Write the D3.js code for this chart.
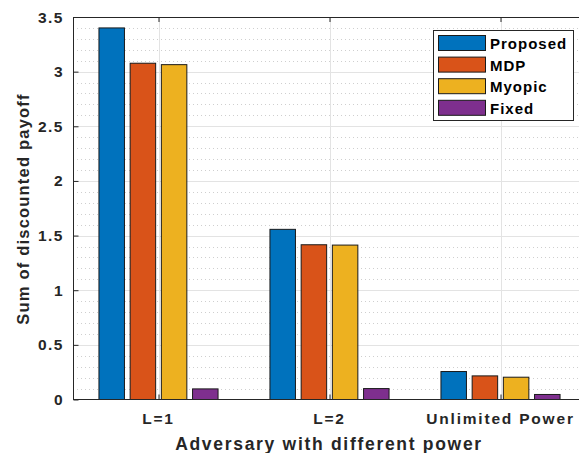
<!DOCTYPE html>
<html>
<head>
<meta charset="utf-8">
<script src="https://cdn.jsdelivr.net/npm/d3@7"></script>
<style>
  body { margin: 0; background: #fff; }
  svg { display: block; font-family: "Liberation Sans", Arial, sans-serif; }
</style>
</head>
<body>
<svg id="chart" width="579" height="453"></svg>
<script>
const categories = ['L=1', 'L=2', 'Unlimited Power'];
const seriesNames = ['Proposed', 'MDP', 'Myopic', 'Fixed'];
const seriesColors = ['#0072BD', '#D95319', '#EDB120', '#7E2F8E'];
const proposed = [3.40, 1.557, 0.256];
const mdp = [3.077, 1.416, 0.216];
const myopic = [3.064, 1.413, 0.204];
const fixed = [0.097, 0.10, 0.046];
const yTicks = [0, 0.5, 1, 1.5, 2, 2.5, 3, 3.5];

const values = [proposed, mdp, myopic, fixed];

const svg = d3.select('#chart');
const m = {left: 73, top: 17, right: 586, bottom: 399.5};
const ink = '#262626';

const x = d3.scaleLinear().domain([0.5, 3.5]).range([m.left, m.right]);
const y = d3.scaleLinear().domain([0, 3.5]).range([m.bottom, m.top]);

// minor dotted grid
const minor = d3.range(0, 3.51, 0.1).filter((v) => Math.abs(v * 2 - Math.round(v * 2)) > 1e-6);
svg.append('g').selectAll('line').data(minor).join('line')
    .attr('x1', m.left).attr('x2', m.right)
    .attr('y1', (d) => Math.round(y(d)) + 0.5).attr('y2', (d) => Math.round(y(d)) + 0.5)
    .attr('stroke', '#cfcfcf').attr('stroke-dasharray', '1,3');

// major grid
svg.append('g').selectAll('line').data(yTicks.slice(1, -1)).join('line')
    .attr('x1', m.left).attr('x2', m.right)
    .attr('y1', (d) => Math.round(y(d)) + 0.5).attr('y2', (d) => Math.round(y(d)) + 0.5)
    .attr('stroke', '#e3e3e3');
svg.append('g').selectAll('line').data([1, 2, 3]).join('line')
    .attr('x1', (d) => Math.round(x(d)) + 0.5).attr('x2', (d) => Math.round(x(d)) + 0.5)
    .attr('y1', m.top).attr('y2', m.bottom)
    .attr('stroke', '#e3e3e3');

// bars
const barW = 25.5;
const step = 31.2;
values.forEach((vals, si) => {
  svg.append('g').selectAll('rect').data(vals).join('rect')
      .attr('x', (d, i) => x(i + 1) + (si - 1.5) * step - barW / 2)
      .attr('y', (d) => y(d))
      .attr('width', barW)
      .attr('height', (d) => y(0) - y(d))
      .attr('fill', seriesColors[si])
      .attr('stroke', '#1a1a1a')
      .attr('stroke-width', 1);
});

// axes box
svg.append('line').attr('x1', m.left).attr('x2', m.right).attr('y1', m.top + 0.5).attr('y2', m.top + 0.5).attr('stroke', ink);
svg.append('line').attr('x1', m.left).attr('x2', m.right).attr('y1', m.bottom).attr('y2', m.bottom).attr('stroke', ink);
svg.append('line').attr('x1', m.left + 0.5).attr('x2', m.left + 0.5).attr('y1', m.top).attr('y2', m.bottom).attr('stroke', ink);

// y ticks
const yAxis = svg.append('g').attr('transform', `translate(${m.left + 0.5},0)`)
    .call(d3.axisRight(y).tickValues(yTicks).tickSize(5).tickFormat(''));
yAxis.select('.domain').remove();
yAxis.selectAll('line').attr('stroke', ink);
svg.append('g').selectAll('text').data(yTicks).join('text')
    .attr('x', 64).attr('y', (d) => y(d) + 5.5)
    .attr('text-anchor', 'end')
    .attr('font-size', 15.5).attr('font-weight', 'bold').attr('fill', ink)
    .attr('letter-spacing', 1.5)
    .text((d) => d);

// x ticks
const xBottom = svg.append('g').attr('transform', `translate(0,${m.bottom})`)
    .call(d3.axisTop(x).tickValues([1, 2, 3]).tickSize(5).tickFormat(''));
xBottom.select('.domain').remove();
xBottom.selectAll('line').attr('stroke', ink);
const xTop = svg.append('g').attr('transform', `translate(0,${m.top})`)
    .call(d3.axisBottom(x).tickValues([1, 2, 3]).tickSize(5).tickFormat(''));
xTop.select('.domain').remove();
xTop.selectAll('line').attr('stroke', ink);
svg.append('g').selectAll('text').data(categories).join('text')
    .attr('x', (d, i) => x(i + 1)).attr('y', 424)
    .attr('text-anchor', 'middle')
    .attr('font-size', 15.5).attr('font-weight', 'bold').attr('fill', ink)
    .attr('letter-spacing', 1.8)
    .text((d) => d);

// axis labels
svg.append('text')
    .attr('x', 329).attr('y', 450)
    .attr('text-anchor', 'middle')
    .attr('font-size', 17.5).attr('font-weight', 'bold').attr('fill', ink)
    .attr('letter-spacing', 1.7)
    .text('Adversary with different power');
svg.append('text')
    .attr('transform', 'translate(29,209) rotate(-90)')
    .attr('text-anchor', 'middle')
    .attr('font-size', 16.5).attr('font-weight', 'bold').attr('fill', ink)
    .attr('letter-spacing', 1.2)
    .text('Sum of discounted payoff');

// legend
const lg = svg.append('g');
lg.append('rect').attr('x', 433.5).attr('y', 30.5).attr('width', 140).attr('height', 90)
    .attr('fill', '#fff').attr('stroke', ink);
seriesNames.forEach((name, i) => {
  lg.append('rect').attr('x', 438.5).attr('y', 35.5 + i * 21.6)
      .attr('width', 47).attr('height', 15)
      .attr('fill', seriesColors[i]).attr('stroke', '#1a1a1a');
  lg.append('text').attr('x', 490).attr('y', 49 + i * 21.6)
      .attr('font-size', 15).attr('font-weight', 'bold').attr('fill', '#000')
      .attr('letter-spacing', 1)
      .text(name);
});
</script>
</body>
</html>
